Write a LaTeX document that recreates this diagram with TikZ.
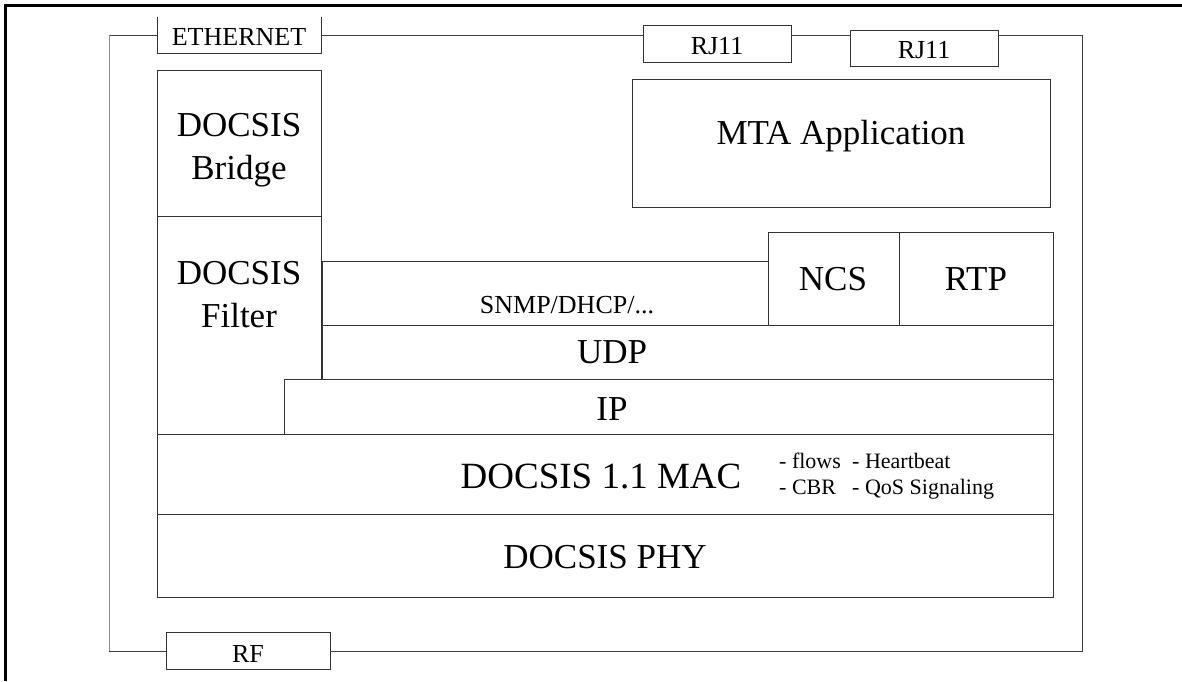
\documentclass[tikz,border=0pt]{standalone}
\usepackage{fontspec}
\setmainfont{Liberation Serif}
\usetikzlibrary{fit}
\tikzset{
	box/.style={draw=black!80, line width=1pt, fill=white, inner sep=0pt, outer sep=0pt},
	port/.style={inner sep=0pt, outer sep=0pt},
	wire/.style={draw=black!75, line width=1pt},
	big/.style={font=\fontsize{35}{43}\selectfont, anchor=base, inner sep=0pt, align=center},
	mid/.style={font=\fontsize{26}{30}\selectfont, anchor=base, inner sep=0pt},
	note/.style={font=\fontsize{22}{26}\selectfont, anchor=base west, inner sep=0pt}
}

\begin{document}
\begin{tikzpicture}[x=1pt, y=-1pt]
			%%%%% START %%%%%
			\useasboundingbox (0, 0) rectangle (1182, 681);
			
			\draw[line width=3pt] (5, 681) -- (5, 5) -- (1182, 5);
			
			%%%%% PORTS %%%%%
			\node[port, fit={(157, 17) (321, 53)}] (eth) {};
			\draw[box] (eth.north west) -- (eth.south west) -- (eth.south east) -- (eth.north east);
			\node[mid] (ethtxt) at (239, 45) {ETHERNET};
			
			\node[box, fit={(643, 25) (791, 62)}] (rja) {};
			\node[mid] (rjatxt) at (717, 54) {RJ11};
			
			\node[box, fit={(850, 30) (998, 66)}] (rjb) {};
			\node[mid] (rjbtxt) at (924, 58) {RJ11};
			
			\node[box, fit={(166, 632) (330, 669)}] (rf) {};
			\node[mid] (rftxt) at (248, 662) {RF};
			
			\coordinate (tl) at (109, 35);
			\coordinate (tr) at (1082, 35);
			\coordinate (br) at (1082, 651);
			\coordinate (bl) at (109, 651);
			
			\draw[wire] (tl) -- (tl -| eth.west);
			\draw[wire] (tl -| eth.east) -- (tl -| rja.west);
			\draw[wire] (tl -| rja.east) -- (tl -| rjb.west);
			\draw[wire] (tl -| rjb.east) -- (tr) -- (br) -- (br -| rf.east);
			\draw[wire] (br -| rf.west) -- (bl);
			\draw[wire, draw=black!45] (bl) -- (tl);
			
			%%%%% LAYERS %%%%%
			\node[box, fit={(632, 79) (1050, 207)}] (mta) {};
			\node[big] (mtatxt) at (841, 144) {MTA Application};
			
			\node[box, fit={(157, 70) (321, 216)}] (bridge) {};
			\node[big] (bridgetxt) at (239, 179) {DOCSIS\\Bridge};
			
			\node[box, fit={(157, 216) (321, 434)}] (filter) {};
			\node[big] (filtertxt) at (239, 327) {DOCSIS\\Filter};
			
			\node[box, fit={(322, 261) (768, 325)}] (snmp) {};
			\node[mid] (snmptxt) at (567, 313) {SNMP/DHCP/...};
			
			\node[box, fit={(768, 232) (899, 325)}] (ncs) {};
			\node[big] (ncstxt) at (833, 290) {NCS};
			
			\node[box, fit={(899, 232) (1053, 325)}] (rtp) {};
			\node[big] (rtptxt) at (976, 290) {RTP};
			
			\node[box, fit={(322, 325) (1053, 379)}] (udp) {};
			\node[big] (udptxt) at (612, 363) {UDP};
			
			\node[box, fit={(284, 379) (1053, 434)}] (ip) {};
			\node[big] (iptxt) at (612, 420) {IP};
			
			\node[box, fit={(157, 434) (1053, 514)}] (mac) {};
			\node[big, font=\fontsize{37}{43}\selectfont] (mactxt) at (601, 488) {DOCSIS 1.1 MAC};
			\node[note] (flows) at (779, 468) {- flows};
			\node[note] (cbr) at (779, 494) {- CBR};
			\node[note] (heart) at (852, 468) {- Heartbeat};
			\node[note] (qos) at (852, 494) {- QoS Signaling};
			
			\node[box, fit={(157, 514) (1053, 597)}] (phy) {};
			\node[big] (phytxt) at (605, 568) {DOCSIS PHY};
			
			%%%%% END %%%%%
\end{tikzpicture}
\end{document}
